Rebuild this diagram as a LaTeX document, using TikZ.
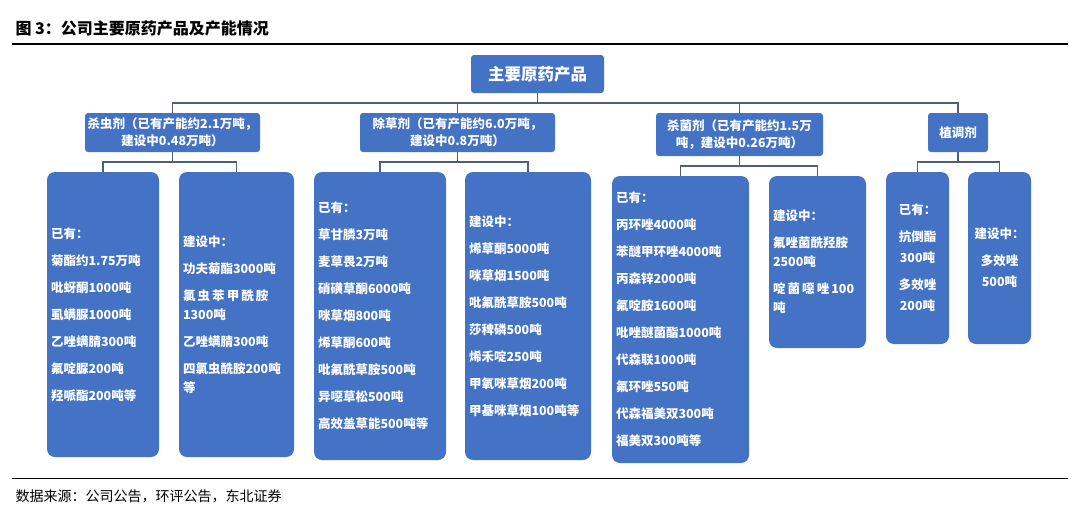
\documentclass[tikz,border=0pt]{standalone}
\usepackage{fontspec}
\setmainfont{Noto Sans CJK SC}
\usetikzlibrary{positioning}
\definecolor{boxblue}{HTML}{4472C4}
\definecolor{linegrey}{HTML}{4F5F7A}

\begin{document}
\begin{tikzpicture}[x=1pt,y=-1pt,
	box/.style={fill=boxblue,text=white,font=\bfseries\fontsize{12.5}{17}\selectfont,align=center,inner sep=2pt,outer sep=0pt,rounded corners=3pt},
	leaf/.style={fill=boxblue,text=white,font=\bfseries\fontsize{12.5}{27}\selectfont,align=left,inner sep=4pt,outer sep=0pt,rounded corners=8pt},
	link/.style={draw=linegrey,line width=1.3pt}]
	\useasboundingbox (0,0) rectangle (1080,520);
	% title and source
	\node [anchor=west,font=\bfseries\fontsize{16}{18}\selectfont] at (12,28) (Title) {图\ 3：公司主要原药产品及产能情况};
	\draw [line width=1.8pt] (12,44) -- (1068,44);
	\draw [line width=0.6pt] (12,478) -- (1068,478);
	\node [anchor=west,font=\fontsize{14}{16}\selectfont] at (12,496) (Source) {数据来源：公司公告，环评公告，东北证券};
	% root and categories
	\node [box,font=\bfseries\fontsize{16.5}{18}\selectfont,minimum width=133pt,minimum height=38pt] at (537.5,74) (Root) {主要原药产品};
	\node [box,minimum width=175pt,minimum height=39pt] at (172.5,132.5) (Insect) {杀虫剂（已有产能约2.1万吨，\\建设中0.48万吨）};
	\node [box,minimum width=195pt,minimum height=39pt] at (457.5,132.5) (Herb) {除草剂（已有产能约6.0万吨，\\建设中0.8万吨）};
	\node [box,minimum width=167pt,minimum height=43pt] at (739.5,134.5) (Fung) {杀菌剂（已有产能约1.5万\\吨，建设中0.26万吨）};
	\node [box,minimum width=60pt,minimum height=39pt] at (958,132.5) (Grow) {植调剂};
	% product lists
	\node [leaf,minimum width=110pt,minimum height=285pt,text width=104pt] at (103,314.5) (InsectHave) {已有：\\菊酯约1.75万吨\\吡蚜酮1000吨\\虱螨脲1000吨\\乙唑螨腈300吨\\氟啶脲200吨\\羟哌酯200吨等};
	\node [leaf,minimum width=113pt,minimum height=285pt,text width=107pt] at (236.5,314.5) (InsectBuild) {建设中：\\功夫菊酯3000吨\\氯\,虫\,苯\,甲\,酰\,胺\\[-8pt]1300吨\\乙唑螨腈300吨\\四氯虫酰胺200吨\\[-8pt]等};
	\node [leaf,minimum width=130pt,minimum height=288pt,text width=124pt] at (380,316) (HerbHave) {已有：\\草甘膦3万吨\\麦草畏2万吨\\硝磺草酮6000吨\\咪草烟800吨\\烯草酮600吨\\吡氟酰草胺500吨\\异噁草松500吨\\高效盖草能500吨等};
	\node [leaf,minimum width=124pt,minimum height=288pt,text width=118pt] at (528,316) (HerbBuild) {建设中：\\烯草酮5000吨\\咪草烟1500吨\\吡氟酰草胺500吨\\莎稗磷500吨\\烯禾啶250吨\\甲氧咪草烟200吨\\甲基咪草烟100吨等};
	\node [leaf,minimum width=135pt,minimum height=287pt,text width=129pt] at (680.5,319.5) (FungHave) {已有：\\丙环唑4000吨\\苯醚甲环唑4000吨\\丙森锌2000吨\\氟啶胺1600吨\\吡唑醚菌酯1000吨\\代森联1000吨\\氟环唑550吨\\代森福美双300吨\\福美双300吨等};
	\node [leaf,minimum width=95pt,minimum height=172pt,text width=89pt] at (817.5,262) (FungBuild) {建设中：\\氟唑菌酰羟胺\\[-8pt]2500吨\\啶\,菌\,噁\,唑\,100\\[-8pt]吨};
	\node [leaf,align=center,minimum width=61pt,minimum height=172pt,text width=55pt] at (917.5,258) (GrowHave) {已有：\\抗倒酯\\[-6pt]300吨\\多效唑\\[-6pt]200吨};
	\node [leaf,align=center,minimum width=61pt,minimum height=172pt,text width=55pt] at (999.5,258) (GrowBuild) {建设中：\\多效唑\\[-6pt]500吨};
	% connectors
	\foreach \cat in {Insect,Herb,Fung,Grow}
		\draw [link] (Root.south) -- (Root.south |- 0,103) -| (\cat.north);
	\foreach \cat/\a/\b in {Insect/InsectHave/InsectBuild,Herb/HerbHave/HerbBuild,Fung/FungHave/FungBuild,Grow/GrowHave/GrowBuild} {
		\draw [link] (\cat.south) -- ++(0,10) coordinate (\cat-bus) -| (\a.north);
		\draw [link] (\cat-bus) -| (\b.north);
	}
\end{tikzpicture}
\end{document}
